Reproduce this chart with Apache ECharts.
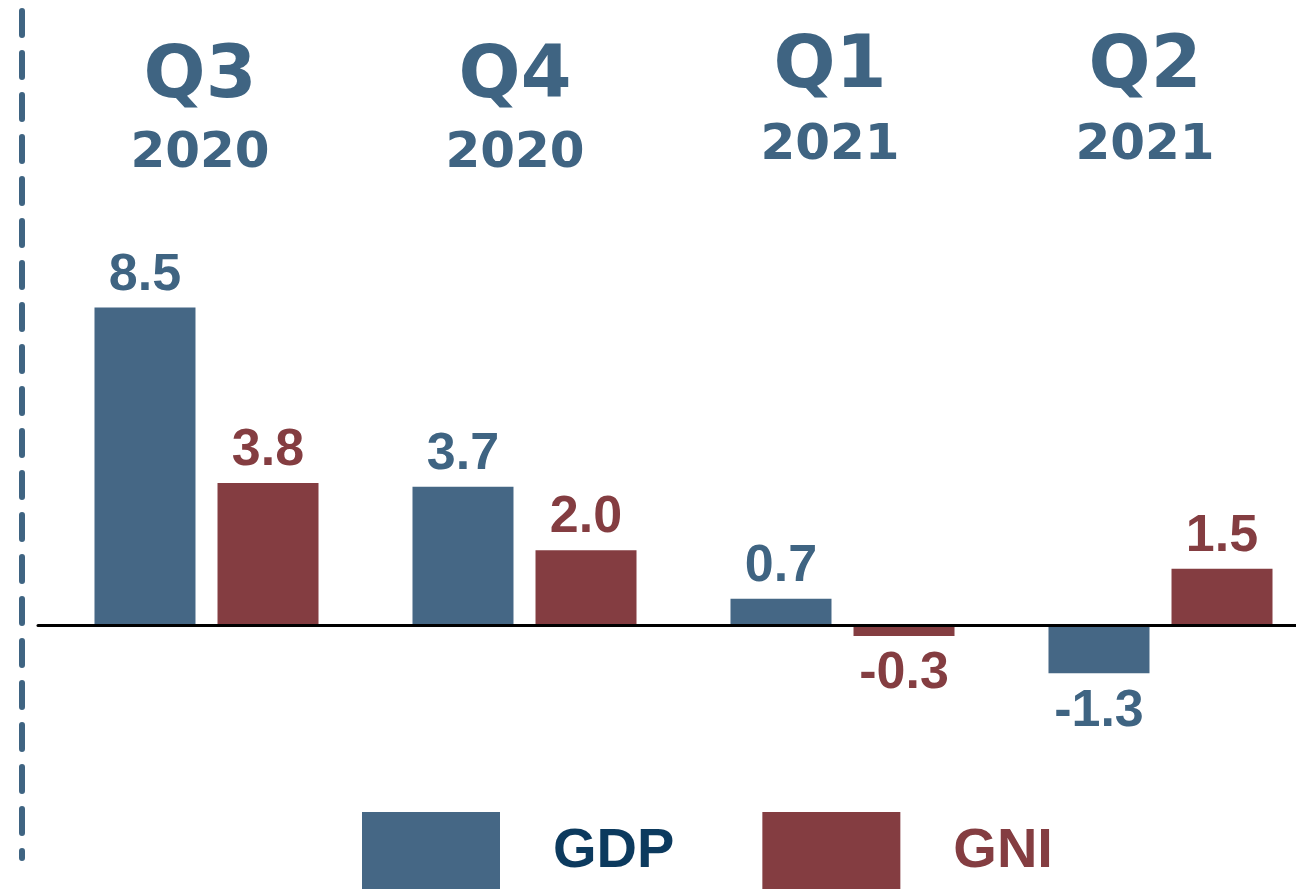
<!DOCTYPE html>
<html>
<head>
<meta charset="utf-8">
<script src="https://cdn.jsdelivr.net/npm/echarts@6/dist/echarts.min.js"></script>
<style>
  html, body { margin: 0; padding: 0; background: #fff; }
  #chart { width: 1296px; height: 889px; }
</style>
</head>
<body>
<div id="chart"></div>
<script>
// GDP / GNI growth by quarter

const quarters = ['Q3', 'Q4', 'Q1', 'Q2'];
const years = ['2020', '2020', '2021', '2021'];
const gdp = [8.5, 3.7, 0.7, -1.3];
const gni = [3.8, 2.0, -0.3, 1.5];

const BLUE = '#456785';
const RED = '#843d41';
const TEXT_BLUE = '#3f6482';
const NAVY = '#0c3a5e';

const categories = quarters.map((q, i) => q + '\n' + years[i]);

// bar data with label below when negative
function toItems(vals) {
  return vals.map(v => ({
    value: v,
    label: { position: v < 0 ? 'bottom' : 'top', distance: v < 0 ? 12 : 6 }
  }));
}

function barLabel(color) {
  return {
    show: true,
    color: color,
    fontFamily: 'Liberation Sans, Arial, sans-serif',
    fontWeight: 'bold',
    fontSize: 52,
    formatter: p => p.value.toFixed(1)
  };
}

const plotTop = 177, plotH = 597;
const yRange = { min: -4, max: 12 };
const headFont = { fontFamily: 'DejaVu Sans', fontWeight: 'bold', color: TEXT_BLUE, align: 'center' };

const chart = echarts.init(document.getElementById('chart'));
chart.setOption({
  animation: false,
  grid: [
    // bars
    { left: 47.5, top: plotTop, width: 1272, height: plotH, outerBoundsMode: 'none' },
    // headers
    { left: 42.5, top: plotTop, width: 1260, height: plotH, outerBoundsMode: 'none' },
    // zero line
    { left: 38, top: plotTop, right: 0, height: plotH, outerBoundsMode: 'none' },
    // dashed divider at left
    { left: 22, top: 11, width: 10, height: 847, outerBoundsMode: 'none' }
  ],
  xAxis: [
    { gridIndex: 0, type: 'category', data: categories, show: false },
    {
      gridIndex: 1, type: 'category', data: categories, position: 'top',
      axisLine: { show: false }, axisTick: { show: false }, splitLine: { show: false },
      axisLabel: {
        margin: -5,
        interval: 0,
        formatter: val => {
          const [q, y] = val.split('\n');
          return y === '2021' ? '{q2|' + q + '}\n{y2|' + y + '}' : '{q|' + q + '}\n{y|' + y + '}';
        },
        rich: {
          q: { ...headFont, fontSize: 73, lineHeight: 96 },
          y: { ...headFont, fontSize: 50, lineHeight: 56 },
          q2: { ...headFont, fontSize: 73, lineHeight: 84 },
          y2: { ...headFont, fontSize: 50, lineHeight: 72 }
        }
      }
    },
    {
      gridIndex: 2, type: 'category', data: categories, z: 10,
      axisLine: { show: true, onZero: true, lineStyle: { color: '#000', width: 3 } },
      axisTick: { show: false }, axisLabel: { show: false }, splitLine: { show: false }
    },
    { gridIndex: 3, type: 'value', show: false }
  ],
  yAxis: [
    { gridIndex: 0, type: 'value', ...yRange, show: false },
    { gridIndex: 1, type: 'value', ...yRange, show: false },
    { gridIndex: 2, type: 'value', ...yRange, show: false },
    {
      gridIndex: 3, type: 'value', min: 0, max: 1, inverse: true, position: 'left',
      axisLine: { show: true, lineStyle: { color: TEXT_BLUE, width: 6, type: [24, 18] } },
      axisTick: { show: false }, axisLabel: { show: false }, splitLine: { show: false }
    }
  ],
  legend: {
    left: 357,
    top: 807,
    itemWidth: 138,
    itemHeight: 80,
    itemGap: 88,
    icon: 'rect',
    textStyle: {
      fontFamily: 'Liberation Sans, Arial, sans-serif',
      fontWeight: 'bold',
      fontSize: 56,
      padding: [0, 0, 0, 48]
    },
    data: [
      { name: 'GDP', textStyle: { color: NAVY } },
      { name: 'GNI', textStyle: { color: RED } }
    ]
  },
  series: [
    {
      name: 'GDP', type: 'bar', xAxisIndex: 0, yAxisIndex: 0,
      barWidth: 101, barGap: '21.8%',
      itemStyle: { color: BLUE },
      label: barLabel(TEXT_BLUE),
      data: toItems(gdp)
    },
    {
      name: 'GNI', type: 'bar', xAxisIndex: 0, yAxisIndex: 0,
      barWidth: 101, barGap: '21.8%',
      itemStyle: { color: RED },
      label: barLabel(RED),
      data: toItems(gni)
    }
  ]
});
</script>
</body>
</html>
